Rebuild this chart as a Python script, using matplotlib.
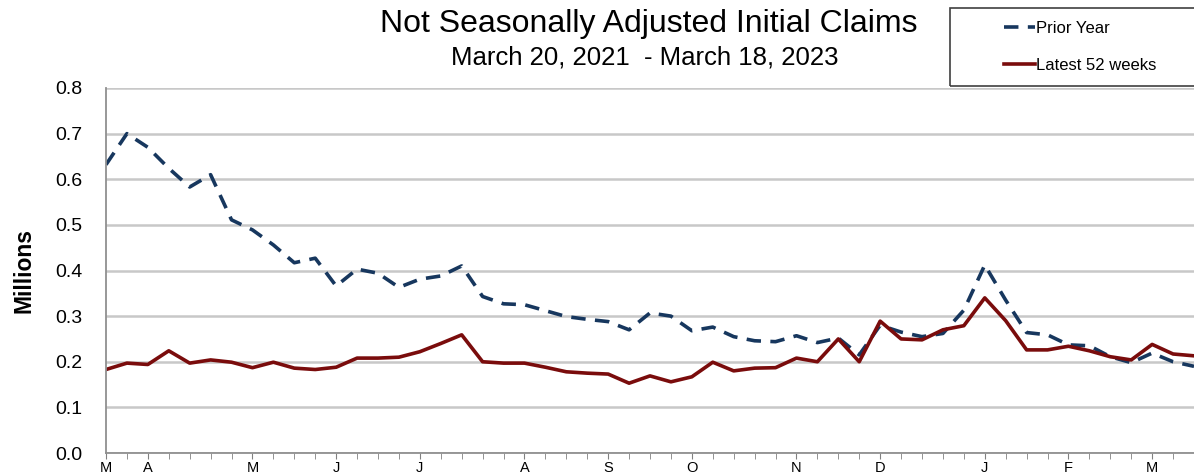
import numpy as np
import matplotlib.pyplot as plt
from matplotlib.patches import Rectangle

# weekly values, millions (week 0 = mid March)
prior_year = [0.632, 0.700, 0.670, 0.624, 0.583, 0.610, 0.511, 0.489, 0.456, 0.417,
              0.427, 0.366, 0.403, 0.394, 0.363, 0.381, 0.388, 0.410, 0.343, 0.327,
              0.325, 0.312, 0.299, 0.293, 0.288, 0.270, 0.307, 0.300, 0.268, 0.276,
              0.255, 0.246, 0.244, 0.257, 0.242, 0.252, 0.215, 0.280, 0.265, 0.255,
              0.262, 0.313, 0.412, 0.335, 0.264, 0.259, 0.237, 0.235, 0.211, 0.198,
              0.219, 0.200, 0.190]
latest_52 = [0.183, 0.197, 0.194, 0.224, 0.197, 0.204, 0.199, 0.187, 0.199, 0.186,
             0.183, 0.188, 0.208, 0.208, 0.210, 0.222, 0.240, 0.259, 0.200, 0.197,
             0.197, 0.188, 0.178, 0.175, 0.173, 0.153, 0.169, 0.156, 0.167, 0.199,
             0.180, 0.186, 0.187, 0.208, 0.200, 0.250, 0.200, 0.289, 0.250, 0.248,
             0.270, 0.279, 0.340, 0.290, 0.226, 0.226, 0.234, 0.224, 0.211, 0.204,
             0.238, 0.217, 0.213]
month_pos = [0, 2, 7, 11, 15, 20, 24, 28, 33, 37, 42, 46, 50]
month_labels = ['M', 'A', 'M', 'J', 'J', 'A', 'S', 'O', 'N', 'D', 'J', 'F', 'M']

plt.rcParams['font.family'] = ['Liberation Sans', 'DejaVu Sans']

fig = plt.figure(figsize=(11.94, 4.76), dpi=100)
ax = fig.add_axes([106 / 1194, 23 / 476, 1 - 106 / 1194, 365 / 476])

weeks = np.arange(len(latest_52))
ax.plot(weeks, prior_year, color='#17375e', lw=2.6, dashes=(4, 2.6), label='Prior Year')
ax.plot(weeks, latest_52, color='#7a0c0c', lw=2.6, label='Latest 52 weeks')

ax.set_xlim(0, 1088 / 21.11)
ax.set_ylim(0, 0.8)
ax.set_yticks(np.arange(0, 0.81, 0.1))
ax.set_yticklabels([f'{v:.1f}' for v in np.arange(0, 0.81, 0.1)], fontsize=14)
ax.yaxis.grid(True, color='#c8c8c8', lw=1.8)
ax.set_axisbelow(True)
ax.tick_params(axis='y', length=0, pad=17)

ax.set_xticks(weeks, minor=True)
ax.set_xticks(month_pos)
ax.set_xticklabels(month_labels, fontsize=10.5)
ax.tick_params(axis='x', which='both', length=4, color='#808080', pad=2)

for side in ['top', 'right']:
    ax.spines[side].set_visible(False)
for side in ['left', 'bottom']:
    ax.spines[side].set_color('#909090')
    ax.spines[side].set_linewidth(1.3)

ax.set_ylabel('Millions', fontsize=16.5, fontweight='bold', labelpad=14)

fig.text(649 / 1194, 1 - 24 / 476, 'Not Seasonally Adjusted Initial Claims',
         ha='center', va='center', fontsize=23)
fig.text(645 / 1194, 1 - 58 / 476, 'March 20, 2021  - March 18, 2023',
         ha='center', va='center', fontsize=18.5)

# legend frame runs off the right edge
fig.patches.append(Rectangle((950 / 1194, 1 - 86 / 476), 300 / 1194, 78 / 476,
                             transform=fig.transFigure, fill=False,
                             edgecolor='#404040', lw=1.2))
fig.legend(loc='center left', bbox_to_anchor=(997 / 1194, 1 - 47 / 476),
           frameon=False, fontsize=12, handlelength=1.85, handletextpad=0.1,
           labelspacing=1.3, borderaxespad=0)

fig.savefig('out.png', dpi=100)
